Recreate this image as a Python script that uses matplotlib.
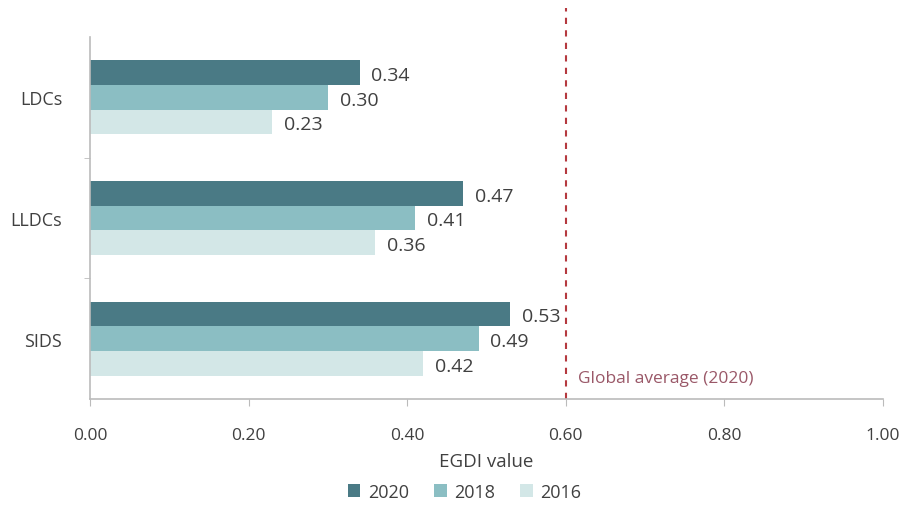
import matplotlib.pyplot as plt
import numpy as np

plt.rcParams['font.family'] = ['Open Sans', 'DejaVu Sans']

groups = ["LDCs", "LLDCs", "SIDS"]
years = ["2020", "2018", "2016"]
egdi = {
    "2020": [0.34, 0.47, 0.53],
    "2018": [0.30, 0.41, 0.49],
    "2016": [0.23, 0.36, 0.42],
}
colors = {"2020": "#4a7a85", "2018": "#8bbec3", "2016": "#d3e7e7"}
global_avg = 0.60

fig = plt.figure(figsize=(9.05, 5.06), dpi=100)
ax = fig.add_axes([0.0994, 0.2095, 0.8763, 0.7155])

y = np.arange(len(groups))
h = 0.205
for i, yr in enumerate(years):
    pos = y + (i - 1) * h
    ax.barh(pos, egdi[yr], height=h, color=colors[yr], label=yr)
    for p, v in zip(pos, egdi[yr]):
        ax.text(v + 0.015, p + 0.02, "%.2f" % v, va="center", ha="left",
                fontsize=14, color="#404040")

# global average marker, runs above the plot area
ax.plot([global_avg, global_avg], [2.5, -0.74], color="#b5393f", lw=1.5,
        ls=(0, (3, 3)), clip_on=False)
ax.text(global_avg + 0.015, 2.33, "Global average (2020)", color="#9a5868",
        fontsize=12.5, va="center")

ax.set_xlim(0, 1.0)
ax.set_ylim(2.5, -0.5)
ax.set_xticks(np.arange(0, 1.01, 0.2))
ax.set_xticklabels(["%.2f" % t for t in np.arange(0, 1.01, 0.2)], fontsize=12.5,
                   color="#404040")
ax.set_yticks(y)
ax.set_yticklabels(groups, fontsize=13, color="#404040")
ax.set_yticks([0.5, 1.5], minor=True)
ax.tick_params(axis="y", which="major", length=0, pad=20)
ax.tick_params(axis="y", which="minor", length=4, color="#bbbbbb")
ax.tick_params(axis="x", length=5, color="#bbbbbb", pad=15)
for s in ["top", "right"]:
    ax.spines[s].set_visible(False)
ax.spines["left"].set_color("#bbbbbb")
ax.spines["bottom"].set_color("#bbbbbb")
ax.spines["left"].set_linewidth(1.2)
ax.spines["bottom"].set_linewidth(1.2)

ax.set_xlabel("EGDI value", fontsize=13.5, color="#404040", labelpad=7)
ax.legend(loc="center", bbox_to_anchor=(0.472, -0.257), ncol=3,
          frameon=False, fontsize=13, handlelength=0.7, handleheight=0.7,
          handletextpad=0.4, columnspacing=1.4, labelcolor="#404040",
          borderpad=0.1)

fig.savefig("out.png", dpi=100)
